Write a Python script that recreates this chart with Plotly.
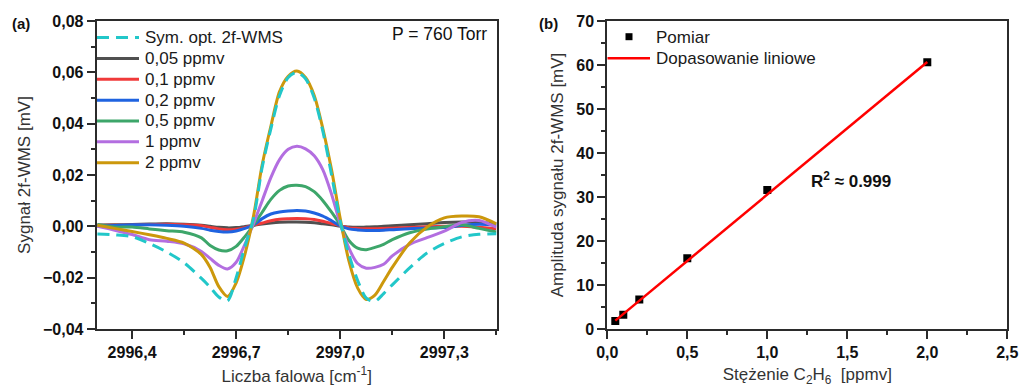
import plotly.graph_objects as go

# ---- panel (a): 2f-WMS spectra vs wavenumber ----
wavenumber = [2996.30, 2996.35, 2996.40, 2996.45, 2996.50, 2996.55, 2996.60, 2996.625,
              2996.65, 2996.675, 2996.70, 2996.725, 2996.75, 2996.775, 2996.80, 2996.825,
              2996.85, 2996.875, 2996.90, 2996.925, 2996.95, 2996.975, 2997.00, 2997.025,
              2997.05, 2997.075, 2997.10, 2997.125, 2997.15, 2997.20, 2997.25, 2997.30,
              2997.35, 2997.40, 2997.45]

sym_opt = [-0.0030, -0.0033, -0.0040, -0.0067, -0.0100, -0.0142, -0.0203, -0.0237,
           -0.0275, -0.0290, -0.0200, -0.0080, 0.0030, 0.0230, 0.0380, 0.0510,
           0.0580, 0.0600, 0.0575, 0.0500, 0.0370, 0.0200, 0.0020, -0.0110,
           -0.0210, -0.0280, -0.0292, -0.0262, -0.0228, -0.0162, -0.0104, -0.0067,
           -0.0041, -0.0031, -0.0029]

c_005 = [0.0005, 0.0006, 0.0007, 0.0009, 0.0010, 0.0008, 0.0004, 0.0000,
         -0.0004, -0.0006, -0.0005, -0.0001, 0.0004, 0.0009, 0.0013, 0.0016,
         0.0017, 0.0017, 0.0016, 0.0014, 0.0010, 0.0006, 0.0001, -0.0003,
         -0.0004, -0.0003, -0.0002, 0.0000, 0.0002, 0.0006, 0.0010, 0.0015,
         0.0017, 0.0016, 0.0010]

c_01 = [0.0003, 0.0004, 0.0005, 0.0007, 0.0008, 0.0006, 0.0002, -0.0004,
        -0.0010, -0.0013, -0.0011, -0.0005, 0.0004, 0.0013, 0.0022, 0.0028,
        0.0030, 0.0031, 0.0030, 0.0027, 0.0020, 0.0011, 0.0002, -0.0006,
        -0.0008, -0.0009, -0.0009, -0.0008, -0.0007, -0.0005, -0.0002, 0.0000,
        0.0000, -0.0004, -0.0009]

c_02 = [0.0000, 0.0003, 0.0006, 0.0006, 0.0004, 0.0000, -0.0008, -0.0015,
        -0.0020, -0.0022, -0.0018, -0.0008, 0.0005, 0.0030, 0.0048, 0.0056,
        0.0060, 0.0062, 0.0060, 0.0052, 0.0040, 0.0022, 0.0002, -0.0010,
        -0.0014, -0.0016, -0.0016, -0.0015, -0.0013, -0.0009, -0.0007, -0.0005,
        0.0003, 0.0008, 0.0005]

c_05 = [0.0007, -0.0003, -0.0003, -0.0010, -0.0017, -0.0023, -0.0045, -0.0075,
        -0.0092, -0.0095, -0.0078, -0.0040, 0.0005, 0.0055, 0.0105, 0.0140,
        0.0157, 0.0160, 0.0155, 0.0135, 0.0100, 0.0055, 0.0005, -0.0055,
        -0.0085, -0.0091, -0.0082, -0.0070, -0.0052, -0.0025, -0.0010, -0.0002,
        0.0006, -0.0008, -0.0022]

c_1 = [0.0000, -0.0015, -0.0032, -0.0052, -0.0058, -0.0068, -0.0098, -0.0125,
       -0.0152, -0.0166, -0.0140, -0.0070, 0.0010, 0.0100, 0.0190, 0.0260,
       0.0300, 0.0312, 0.0302, 0.0275, 0.0220, 0.0125, 0.0010, -0.0085,
       -0.0145, -0.0163, -0.0160, -0.0148, -0.0115, -0.0070, -0.0044, -0.0019,
       0.0015, 0.0023, -0.0003]

c_2 = [0.0004, -0.0008, -0.0020, -0.0033, -0.0047, -0.0065, -0.0110, -0.0160,
       -0.0235, -0.0273, -0.0220, -0.0110, 0.0040, 0.0240, 0.0390, 0.0525,
       0.0585, 0.0605, 0.0580, 0.0510, 0.0380, 0.0220, 0.0030, -0.0135,
       -0.0240, -0.0285, -0.0268, -0.0215, -0.0160, -0.0065, -0.0003, 0.0033,
       0.0040, 0.0037, 0.0010]

sym_label = "Sym. opt. 2f-WMS"
sym_color = "#22c7c9"
spectra_labels = ["0,05 ppmv", "0,1 ppmv", "0,2 ppmv", "0,5 ppmv", "1 ppmv", "2 ppmv"]
spectra_values = [c_005, c_01, c_02, c_05, c_1, c_2]
spectra_colors = ["#505050", "#f03a3a", "#1f63e0", "#3da66a", "#b36ee0", "#cc980c"]

# ---- panel (b): calibration ----
conc_ppmv = [0.05, 0.1, 0.2, 0.5, 1.0, 2.0]
amplitude_mv = [1.8, 3.25, 6.7, 16.1, 31.6, 60.6]
fit_x = [0.05, 2.0]
fit_y = [1.9, 60.7]

TXT = "#333333"
DARK = "#1a1a1a"
AX = "#2b2b2b"
FONT = "Liberation Sans, Arial, sans-serif"
W, H = 1020, 387
SYM_DASH = "12px,7px"


def px(xp):
    return xp / W


def py(yp):
    return 1 - yp / H


fig = go.Figure()

for name, vals, color in zip(spectra_labels, spectra_values, spectra_colors):
    fig.add_trace(go.Scatter(
        x=wavenumber, y=vals, name=name, mode="lines", showlegend=False,
        line=dict(color=color, width=3, shape="spline", smoothing=0.8),
        xaxis="x", yaxis="y"))

fig.add_trace(go.Scatter(
    x=wavenumber, y=sym_opt, name=sym_label, mode="lines", showlegend=False,
    line=dict(color=sym_color, width=3, dash=SYM_DASH, shape="spline", smoothing=0.8),
    xaxis="x", yaxis="y"))

fig.add_trace(go.Scatter(
    x=conc_ppmv, y=amplitude_mv, name="Pomiar", mode="markers", showlegend=False,
    marker=dict(symbol="square", size=8, color="black"),
    xaxis="x2", yaxis="y2"))

fig.add_trace(go.Scatter(
    x=fit_x, y=fit_y, name="Dopasowanie liniowe", mode="lines", showlegend=False,
    line=dict(color="#ff0000", width=2.5),
    xaxis="x2", yaxis="y2"))

# ---- hand-placed legends ----
shapes, annotations = [], []
legend_rows_a = [37.5, 58.5, 79.3, 100.2, 121.0, 141.8, 162.7]
legend_entries_a = [(sym_label, sym_color, SYM_DASH)] + [
    (lbl, col, "solid") for lbl, col in zip(spectra_labels, spectra_colors)]
for row_y, (lbl, col, dash) in zip(legend_rows_a, legend_entries_a):
    shapes.append(dict(type="line", xref="paper", yref="paper",
                       x0=px(97), x1=px(139), y0=py(row_y), y1=py(row_y),
                       line=dict(color=col, width=3, dash=dash)))
    annotations.append(dict(text=lbl, x=px(143), y=py(row_y), xref="paper", yref="paper",
                            xanchor="left", yanchor="middle", showarrow=False,
                            font=dict(family=FONT, size=17, color=DARK)))

shapes.append(dict(type="rect", xref="paper", yref="paper",
                   x0=px(625.5), x1=px(632.5), y0=py(40.2), y1=py(33.2),
                   fillcolor="black", line=dict(width=0)))
annotations.append(dict(text="Pomiar", x=px(654), y=py(37), xref="paper", yref="paper",
                        xanchor="left", yanchor="middle", showarrow=False,
                        font=dict(family=FONT, size=17, color=DARK)))
shapes.append(dict(type="line", xref="paper", yref="paper",
                   x0=px(607.5), x1=px(650), y0=py(58.3), y1=py(58.3),
                   line=dict(color="#ff0000", width=2.5)))
annotations.append(dict(text="Dopasowanie liniowe", x=px(654), y=py(58.3), xref="paper",
                        yref="paper", xanchor="left", yanchor="middle", showarrow=False,
                        font=dict(family=FONT, size=17, color=DARK)))

annotations += [
    dict(text="<b>(a)</b>", x=px(10), y=py(23), xref="paper", yref="paper",
         xanchor="left", yanchor="middle", showarrow=False,
         font=dict(family=FONT, size=15, color="#111111")),
    dict(text="<b>(b)</b>", x=px(537), y=py(23), xref="paper", yref="paper",
         xanchor="left", yanchor="middle", showarrow=False,
         font=dict(family=FONT, size=15, color="#111111")),
    dict(text="P = 760 Torr", x=px(489), y=py(34), xref="paper", yref="paper",
         xanchor="right", yanchor="middle", showarrow=False,
         font=dict(family=FONT, size=17.5, color="#111111")),
    dict(text="<b>R<sup>2</sup> ≈ 0.999</b>", x=px(851), y=py(180),
         xref="paper", yref="paper", xanchor="center", yanchor="middle",
         showarrow=False, font=dict(family=FONT, size=17, color="#111111")),
]


def axis_style(**kw):
    base = dict(
        showline=True, linewidth=2, linecolor=AX, mirror=True,
        ticks="outside", ticklen=8, tickwidth=1.5, tickcolor=AX,
        showgrid=False, zeroline=False, automargin=False,
        tickfont=dict(family=FONT, size=16, color="#111111", weight="bold"),
        title_font=dict(family=FONT, size=17, color=TXT),
    )
    base.update(kw)
    return base


y_lo, y_hi = py(329), py(21)

fig.update_layout(
    width=W, height=H,
    margin=dict(l=0, r=0, t=0, b=0, autoexpand=False),
    paper_bgcolor="white", plot_bgcolor="white",
    separators=", ",
    font=dict(family=FONT, color=TXT),
    showlegend=False,
    xaxis=axis_style(
        domain=[px(96.7), px(496.7)], range=[2996.298, 2997.451],
        tick0=2996.4, dtick=0.3, tickformat=".1f",
        minor=dict(dtick=0.15, tick0=2996.4, ticklen=4, ticks="outside", tickcolor=AX),
        title=dict(text="Liczba falowa [cm<sup>-1</sup>]", standoff=10),
        anchor="y"),
    yaxis=axis_style(
        domain=[y_lo, y_hi], range=[-0.04, 0.08],
        tick0=0, dtick=0.02, tickformat=".2f",
        minor=dict(dtick=0.01, ticklen=4, ticks="outside", tickcolor=AX),
        title=dict(text="Sygnał 2f-WMS [mV]", standoff=8),
        anchor="x"),
    xaxis2=axis_style(
        domain=[px(607.3), px(1007.3)], range=[0, 2.5],
        tick0=0, dtick=0.5, tickformat=".1f",
        minor=dict(dtick=0.25, ticklen=4, ticks="outside", tickcolor=AX),
        title=dict(text="Stężenie C<sub>2</sub>H<sub>6</sub>  [ppmv]", standoff=10),
        anchor="y2"),
    yaxis2=axis_style(
        domain=[y_lo, y_hi], range=[0, 70],
        tick0=0, dtick=10,
        minor=dict(dtick=5, ticklen=4, ticks="outside", tickcolor=AX),
        title=dict(text="Amplituda sygnału 2f-WMS [mV]", standoff=8),
        anchor="x2"),
    shapes=shapes,
    annotations=annotations,
)

fig.write_html("out.html")
